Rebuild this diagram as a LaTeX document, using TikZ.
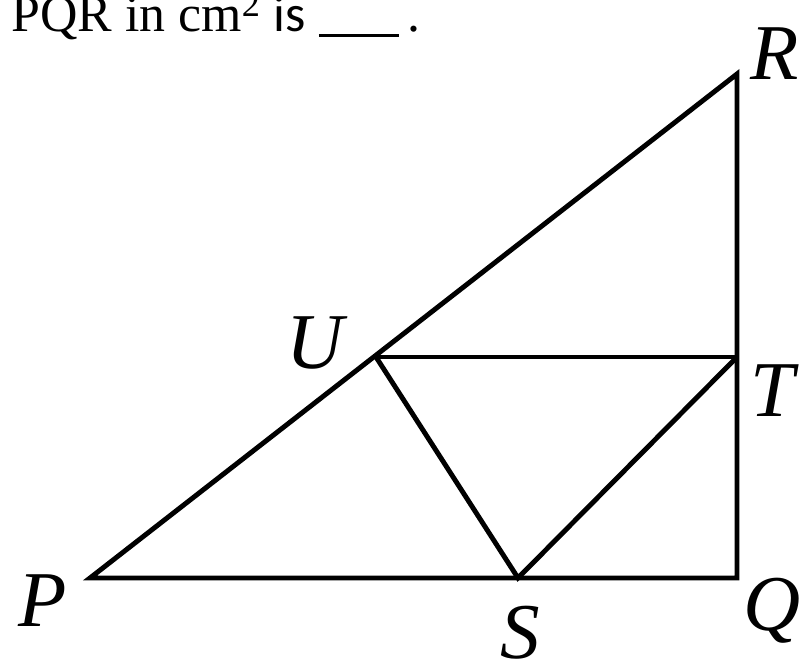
\documentclass[tikz,border=0pt]{standalone}
\usepackage{fontspec}
\setmainfont{Liberation Serif}
\newfontfamily\calib{Carlito}
\usetikzlibrary{positioning}

\begin{document}
\begin{tikzpicture}[
    line width=2.8pt,
    line join=miter,
    every node/.style={inner sep=0pt},
    vlabel/.style={font=\fontsize{45}{52}\selectfont\itshape}
]
\useasboundingbox (0,0) rectangle (16.18,13.36);

% points
\coordinate (P) at (1.80,1.80);
\coordinate (Q) at (14.74,1.80);
\coordinate (R) at (14.74,11.88);
\coordinate (U) at (7.52,6.22);
\coordinate (T) at (14.74,6.22);
\coordinate (S) at (10.36,1.80);

% question text (cut off)
\node[anchor=base west, font=\fontsize{29.5}{34}\selectfont] (qtext) at (0.18,12.72)
    {PQR in cm\textsuperscript{2} {\calib is} \rule[-3pt]{1.6cm}{1.6pt}\,.};

\draw (P) -- (Q) -- (R) -- cycle;
\draw (U) -- (T);
\draw (U) -- (S) -- (T);

\node[vlabel] (lP) at (0.85,1.35) {P};
\node[vlabel] (lQ) at (15.45,1.15) {Q};
\node[vlabel] (lR) at (15.50,12.28) {R};
\node[vlabel] (lT) at (15.45,5.55) {T};
\node[vlabel] (lU) at (6.30,6.50) {U};
\node[vlabel] (lS) at (10.40,0.70) {S};
\end{tikzpicture}
\end{document}
